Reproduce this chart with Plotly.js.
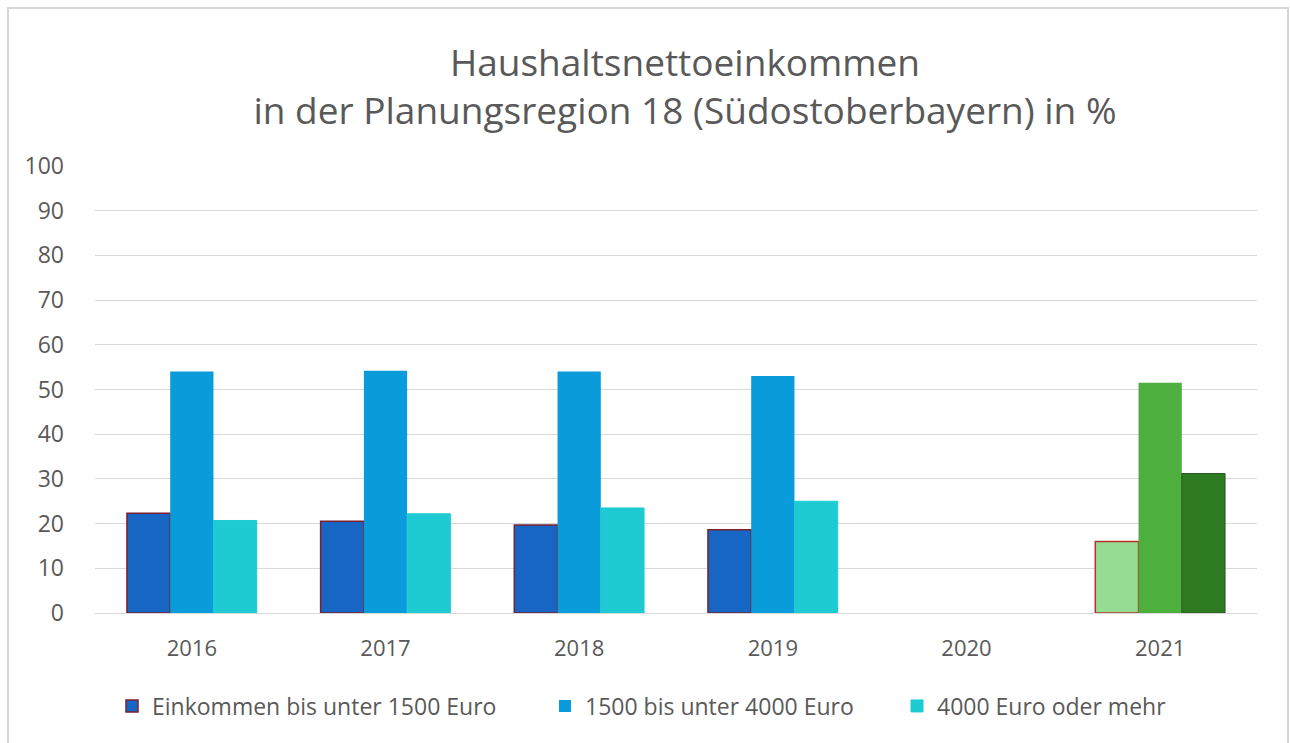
<!DOCTYPE html>
<html>
<head>
<meta charset="utf-8">
<script src="https://cdn.plot.ly/plotly-3.0.1.min.js"></script>
<style>
  html, body { margin: 0; padding: 0; background: #fff; }
  #chart { position: absolute; left: 0; top: 0; width: 1290px; height: 743px; }
  #frame { position: absolute; left: 7px; top: 7px; width: 1278px; height: 760px;
           border: 2px solid #d4d4d4; pointer-events: none; }
</style>
</head>
<body>
<div id="chart"></div>
<div id="frame"></div>
<script>
const years = ['2016', '2017', '2018', '2019', '2020', '2021'];
const seriesNames = ['Einkommen bis unter 1500 Euro', '1500 bis unter 4000 Euro', '4000 Euro oder mehr'];
const low  = [22.3, 20.5, 19.7, 18.6, null, 16.0];
const mid  = [54.0, 54.2, 54.0, 53.0, null, 51.5];
const high = [20.7, 22.2, 23.5, 25.0, null, 31.2];
const yTicks = [0, 10, 20, 30, 40, 50, 60, 70, 80, 90, 100];

const colLow  = ['#1766C4', '#1766C4', '#1766C4', '#1766C4', '#1766C4', '#96DC93'];
const colMid  = ['#0A9BDB', '#0A9BDB', '#0A9BDB', '#0A9BDB', '#0A9BDB', '#4DAF3E'];
const colHigh = ['#1ECBD3', '#1ECBD3', '#1ECBD3', '#1ECBD3', '#1ECBD3', '#2F7B24'];
const lineLow  = ['#7A2030', '#7A2030', '#7A2030', '#7A2030', '#7A2030', '#B8322C'];
const lineHigh = ['#1ECBD3', '#1ECBD3', '#1ECBD3', '#1ECBD3', '#1ECBD3', '#24581C'];

const traces = [
  { type: 'bar', name: seriesNames[0], x: years, y: low, legend: 'legend',
    marker: { color: colLow, line: { color: lineLow, width: 1.5 } } },
  { type: 'bar', name: seriesNames[1], x: years, y: mid, legend: 'legend2',
    marker: { color: colMid, line: { width: 0 } } },
  { type: 'bar', name: seriesNames[2], x: years, y: high, legend: 'legend3',
    marker: { color: colHigh, line: { color: lineHigh, width: 1 } } }
];

const font = 'Open Sans, sans-serif';
const ml = 95, mr = 33;
const pw = 1290 - ml - mr;
const px = p => (p - ml) / pw;
const legFont = { family: font, size: 23, color: '#595959' };
const legY = -0.208;
function leg(xpix) {
  return { orientation: 'h', x: px(xpix), xanchor: 'left', y: legY, yanchor: 'middle',
           font: legFont, bgcolor: 'rgba(0,0,0,0)' };
}

const layout = {
  width: 1290, height: 743,
  margin: { l: ml, r: mr, t: 166, b: 130 },
  paper_bgcolor: '#ffffff', plot_bgcolor: '#ffffff',
  barmode: 'group', bargap: 0.33, bargroupgap: 0,
  title: {
    text: 'Haushaltsnettoeinkommen<br>in der Planungsregion 18 (Südostoberbayern) in %',
    font: { family: font, size: 37, color: '#595959' },
    x: 0.531, xanchor: 'center', y: 0.898, yanchor: 'middle'
  },
  xaxis: {
    type: 'category', range: [-0.5, 5.5],
    tickfont: { family: font, size: 22, color: '#595959' },
    showline: false, showgrid: false, ticks: '', ticklen: 0,
    ticklabelstandoff: 20
  },
  yaxis: {
    range: [0, 100], tickvals: yTicks, ticktext: yTicks.map(String),
    tickfont: { family: font, size: 23, color: '#595959' },
    showgrid: true, gridcolor: '#d9d9d9', gridwidth: 1,
    zeroline: true, zerolinecolor: '#d9d9d9', zerolinewidth: 1,
    showline: false, ticks: '', ticklabelstandoff: 30
  },
  legend: leg(112),
  legend2: leg(545),
  legend3: leg(897),
  showlegend: true,
  hovermode: false
};

Plotly.newPlot('chart', traces, layout, { displayModeBar: false, staticPlot: true });
</script>
</body>
</html>
